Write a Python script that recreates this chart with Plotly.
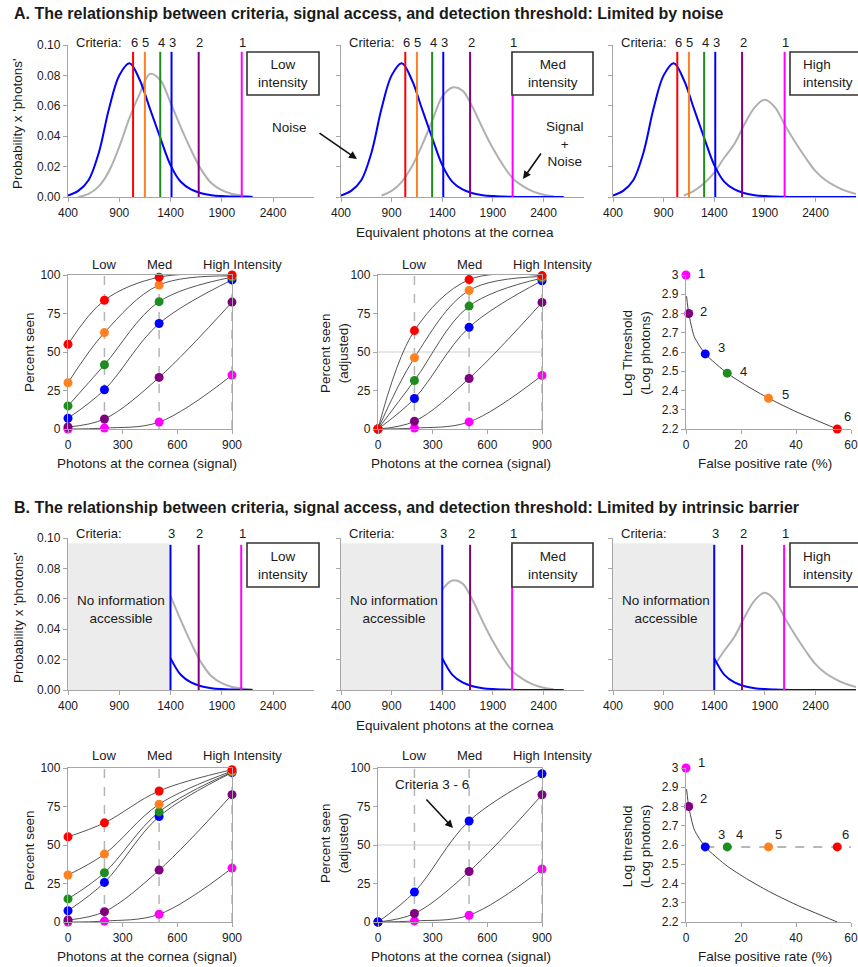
import plotly.graph_objects as go

W, H = 858, 967
FONT = "Liberation Sans, Arial, sans-serif"
TXT = "#1a1a1a"
AXC = "#a6a6a6"

# ------------------------- data -------------------------
dist_x = [400, 500, 600, 700, 800, 900, 1000, 1100, 1200, 1300, 1400, 1500, 1600,
          1700, 1800, 1900, 2000, 2100, 2200, 2300, 2400, 2500, 2600, 2700, 2800]
noise = [0.001, 0.004, 0.011, 0.029, 0.058, 0.080, 0.088, 0.077, 0.058, 0.039,
         0.021, 0.010, 0.005, 0.0025, 0.0012, 0.0006, 0.0003, 0.0001, 0.0, 0.0,
         0.0, 0.0, 0.0, 0.0, 0.0]
sig_low = [None, 0.0, 0.002, 0.007, 0.017, 0.033, 0.052, 0.068, 0.081, 0.077,
           0.062, 0.046, 0.031, 0.018, 0.009, 0.0045, 0.002, 0.001, 0.0003, None,
           None, None, None, None, None]
sig_med = [None, None, None, None, 0.001, 0.004, 0.010, 0.020, 0.034, 0.050,
           0.066, 0.072, 0.070, 0.059, 0.045, 0.032, 0.021, 0.012, 0.007, 0.0035,
           0.0015, 0.0005, None, None, None]
sig_high = [None, None, None, None, None, None, None, 0.001, 0.004, 0.009,
            0.016, 0.026, 0.035, 0.048, 0.059, 0.064, 0.059, 0.047, 0.036, 0.026,
            0.017, 0.011, 0.007, 0.004, 0.002]
intensity_names = ["Low<br>intensity", "Med<br>intensity", "High<br>intensity"]

criteria_labels = ["1", "2", "3", "4", "5", "6"]
criteria_A = [2095, 1675, 1410, 1300, 1150, 1035]
criteria_B = [2090, 1675, 1400]
barrier = 1400
crit_colors = ["#ff00ff", "#800080", "#0000ff", "#1f8c1f", "#ff8020", "#ff0000"]

signal = [0, 200, 500, 900]
signal_labels = ["Low", "Med", "High Intensity"]
seen_A = [[0, 0.6, 4.5, 35], [1.3, 6.5, 33.5, 82.4], [7, 25.5, 68.5, 96.8],
          [15, 41.7, 82.7, 98.6], [30, 62.6, 93.5, 99.4], [55, 83.6, 98.6, 100]]
adj_A = [[0, 0.6, 4.6, 34.8], [0, 5, 32.8, 82.2], [0, 19.8, 66, 96.3],
         [0, 31.5, 79.8, 98], [0, 46.3, 90, 99], [0, 63.9, 97, 99.6]]
seen_B = [[0, 0.6, 5, 35], [1.3, 6.7, 33.7, 82.7], [7.3, 25.7, 68.5, 97],
          [15, 32, 71.5, 97.4], [30.5, 44.1, 76.5, 98], [55.3, 64.4, 85.1, 98.9]]
adj_B = [[0, 0.7, 4.4, 34.4], [0, 5.5, 32.8, 82.6], [0, 19.5, 65.6, 96.3]]

fp_A = [0, 1, 7, 15, 30, 55]
thr_A = [3.0, 2.8, 2.59, 2.49, 2.36, 2.2]
fp_B = [0, 1, 7, 15, 30, 55]
thr_B = [3.0, 2.8, 2.59, 2.59, 2.59, 2.59]
curve_fp = [0.2, 1, 3, 7, 15, 22, 30, 40, 55]
curve_thr = [2.89, 2.8, 2.68, 2.59, 2.49, 2.425, 2.36, 2.29, 2.2]

# ------------------------- layout helpers -------------------------
def fx(p):
    return p / W


def fy(p):
    return 1 - p / H


def xr(i):
    return "x" if i == 1 else f"x{i}"


def yr(i):
    return "y" if i == 1 else f"y{i}"


COLS_WIDE = [(68, 314), (341, 584), (613, 856)]
COLS_NARROW = [(68, 232), (378, 542), (686, 851)]
ROWS = [(45, 197), (275, 429), (538, 690), (768, 922)]
noise_end = [2200, 2600, 2800]

fig = go.Figure()
layout = dict(
    width=W, height=H, margin=dict(l=0, r=0, t=0, b=0, pad=0, autoexpand=False),
    paper_bgcolor="white", plot_bgcolor="white", showlegend=False,
    font=dict(family=FONT, size=12, color=TXT),
)


def base_axis():
    return dict(showline=True, linecolor=AXC, linewidth=1.3, ticks="outside",
                ticklen=4, tickcolor=AXC, tickwidth=1, showgrid=False,
                zeroline=False, fixedrange=True,
                tickfont=dict(family=FONT, size=12, color=TXT))


for r in range(4):
    for c in range(3):
        i = r * 3 + c + 1
        cols = COLS_WIDE if r in (0, 2) else COLS_NARROW
        xa = base_axis()
        ya = base_axis()
        xa.update(domain=[fx(cols[c][0]), fx(cols[c][1])], anchor=yr(i))
        ya.update(domain=[fy(ROWS[r][1]), fy(ROWS[r][0])], anchor=xr(i))
        if r in (0, 2):
            xa.update(range=[400, 2800], tickvals=[400, 900, 1400, 1900, 2400])
            ya.update(range=[0, 0.1], tickvals=[0, 0.02, 0.04, 0.06, 0.08, 0.1],
                      tickformat=".2f", showticklabels=(c == 0))
        elif c < 2:
            xa.update(range=[0, 900], tickvals=[0, 300, 600, 900], mirror=True)
            ya.update(range=[0, 100], tickvals=[0, 25, 50, 75, 100], mirror=True)
        else:
            xa.update(range=[0, 60], tickvals=[0, 20, 40, 60])
            ya.update(range=[2.2, 3.0], tickvals=[2.2, 2.3, 2.4, 2.5, 2.6, 2.7, 2.8, 2.9, 3.0],
                      ticktext=["2.2", "2.3", "2.4", "2.5", "2.6", "2.7", "2.8", "2.9", "3"])
        layout["xaxis" if i == 1 else f"xaxis{i}"] = xa
        layout["yaxis" if i == 1 else f"yaxis{i}"] = ya

shapes = []
annotations = []


def ann(text, x, y, size=13.5, xref="paper", yref="paper", **kw):
    d = dict(text=text, x=x, y=y, xref=xref, yref=yref, showarrow=False,
             xanchor="center", yanchor="middle",
             font=dict(family=FONT, size=size, color=TXT))
    d.update(kw)
    annotations.append(d)


# ------------------------- distributions (rows 1 & 3) -------------------------
for k, sig in enumerate([sig_low, sig_med, sig_high]):
    for row in (0, 2):
        i = row * 3 + k + 1
        if row == 0:
            gx = [x for x, v in zip(dist_x, sig) if v is not None]
            gy = [v for v in sig if v is not None]
            bx = [x for x in dist_x if x <= noise_end[k]]
            by = [v for x, v in zip(dist_x, noise) if x <= noise_end[k]]
        else:
            gx = [x for x, v in zip(dist_x, sig) if v is not None and x >= barrier]
            gy = [v for x, v in zip(dist_x, sig) if v is not None and x >= barrier]
            bx = [x for x in dist_x if barrier <= x <= noise_end[k]]
            by = [v for x, v in zip(dist_x, noise) if barrier <= x <= noise_end[k]]
        fig.add_trace(go.Scatter(x=gx, y=gy, mode="lines", xaxis=xr(i), yaxis=yr(i),
                                 line=dict(color="#b0b0b0", width=2, shape="spline", smoothing=1),
                                 cliponaxis=False, hoverinfo="skip"))
        fig.add_trace(go.Scatter(x=bx, y=by, mode="lines", xaxis=xr(i), yaxis=yr(i),
                                 line=dict(color="#0000ff", width=2, shape="spline", smoothing=1),
                                 cliponaxis=False, hoverinfo="skip"))
        crits = criteria_A if row == 0 else criteria_B
        label_y = 42 if row == 0 else 533
        if row == 2:
            shapes.append(dict(type="rect", xref=xr(i), yref=yr(i), x0=400, x1=barrier,
                               y0=0, y1=0.0965, fillcolor="#ececec", line=dict(width=0),
                               layer="below"))
            ann("No information<br>accessible", 920, 0.053, xref=xr(i), yref=yr(i))
        for j, cval in enumerate(crits):
            shapes.append(dict(type="line", xref=xr(i), yref=yr(i), x0=cval, x1=cval,
                               y0=0, y1=0.0955, line=dict(color=crit_colors[j], width=2)))
            ann(criteria_labels[j], cval, fy(label_y), size=13, xref=xr(i), xshift=1)
        ann("Criteria:", 705, fy(label_y), size=13, xref=xr(i))

# intensity boxes
box_x = [(247, 319), (512, 593), (790, 880)]
for row, (top, bot) in zip((0, 2), ((52, 95), (543, 587))):
    for k in range(3):
        x0, x1 = box_x[k]
        shapes.append(dict(type="rect", xref="paper", yref="paper", x0=fx(x0), x1=fx(x1),
                           y0=fy(bot), y1=fy(top), line=dict(color="#333333", width=1.6),
                           fillcolor="white"))
        if k < 2:
            ann(intensity_names[k], fx((x0 + x1) / 2), fy((top + bot) / 2))
        else:
            ann(intensity_names[k], fx(801), fy((top + bot) / 2), xanchor="left", align="left")

# ------------------------- percent seen (rows 2 & 4) -------------------------
for i, data in ((4, seen_A), (5, adj_A), (10, seen_B), (11, adj_B)):
    for sv in signal[1:]:
        shapes.append(dict(type="line", xref=xr(i), yref=yr(i), x0=sv, x1=sv, y0=0, y1=100,
                           line=dict(color="#b5b5b5", width=1.5, dash="dash"), layer="below"))
    if i in (5, 11):
        shapes.append(dict(type="line", xref=xr(i), yref=yr(i), x0=0, x1=900, y0=50, y1=50,
                           line=dict(color="#d0d0d0", width=1.2), layer="below"))
    for series in data:
        fig.add_trace(go.Scatter(x=signal, y=series, mode="lines", xaxis=xr(i), yaxis=yr(i),
                                 line=dict(color="#555555", width=1, shape="spline", smoothing=1),
                                 hoverinfo="skip"))
    for j, series in enumerate(data):
        fig.add_trace(go.Scatter(x=signal, y=series, mode="markers", xaxis=xr(i), yaxis=yr(i),
                                 marker=dict(color=crit_colors[j], size=9), cliponaxis=False,
                                 hoverinfo="skip"))
    row_top = ROWS[1][0] if i < 7 else ROWS[3][0]
    lab_y = row_top - 10 if i < 7 else row_top - 13
    ann(signal_labels[0], signal[1], fy(lab_y), size=13, xref=xr(i))
    ann(signal_labels[1], signal[2], fy(lab_y), size=13, xref=xr(i))
    ann(signal_labels[2], signal[3], fy(lab_y), size=13, xref=xr(i), xshift=10)

# ------------------------- thresholds (rows 2 & 4, col 3) -------------------------
label_shift_A = [(15, 1), (15, 2), (16, 6), (16, 2), (17, 4), (10, 12)]
label_shift_B = [(15, 6), (15, 8), (16, 12), (12, 12), (10, 12), (8, 12)]
for i, fps, thrs, shifts in ((6, fp_A, thr_A, label_shift_A), (12, fp_B, thr_B, label_shift_B)):
    fig.add_trace(go.Scatter(x=curve_fp, y=curve_thr, mode="lines", xaxis=xr(i), yaxis=yr(i),
                             line=dict(color="#444444", width=1, shape="spline", smoothing=0.6),
                             hoverinfo="skip"))
    if i == 12:
        fig.add_trace(go.Scatter(x=[fps[2], 60], y=[thrs[2], thrs[2]], mode="lines",
                                 xaxis=xr(i), yaxis=yr(i),
                                 line=dict(color="#a0a0a0", width=1.5, dash="dash"),
                                 cliponaxis=False, hoverinfo="skip"))
    fig.add_trace(go.Scatter(x=fps, y=thrs, mode="markers", xaxis=xr(i), yaxis=yr(i),
                             marker=dict(color=crit_colors, size=9), cliponaxis=False,
                             hoverinfo="skip"))
    for j in range(6):
        ann(criteria_labels[j], fps[j], thrs[j], size=13, xref=xr(i), yref=yr(i),
            xshift=shifts[j][0], yshift=shifts[j][1])

# ------------------------- titles & axis titles -------------------------
ann("<b>A. The relationship between criteria, signal access, and detection threshold: Limited by noise</b>",
    fx(12), fy(13), size=16, xanchor="left")
ann("<b>B. The relationship between criteria, signal access, and detection threshold: Limited by intrinsic barrier</b>",
    fx(12), fy(507), size=16, xanchor="left")

for yc in (124, 618):
    ann("Probability x 'photons'", fx(18), fy(yc), textangle=-90)
for yc in (232, 725):
    ann("Equivalent photons at the cornea", fx(455), fy(yc))

for yt, yx, yc2, ylog, logtxt in ((352, 463, 353, 353, "Log Threshold<br>(Log photons)"),
                                  (850, 956, 843, 847, "Log threshold<br>(Log photons)")):
    ann("Percent seen", fx(29), fy(yt), textangle=-90)
    ann("Photons at the cornea (signal)", fx(147), fy(yx))
    ann("Photons at the cornea (signal)", fx(461), fy(yx))
    ann("Percent seen<br>(adjusted)", fx(334), fy(yc2), textangle=-90)
    ann(logtxt, fx(636), fy(ylog), textangle=-90)
    ann("False positive rate (%)", fx(765), fy(yx))

# arrows and callouts
ann("Noise", fx(289), fy(128))
ann("", fx(357), fy(159), showarrow=True, ax=-39, ay=-27, arrowhead=2, arrowsize=1,
    arrowwidth=1.6, arrowcolor="#111111")
ann("Signal<br>+<br>Noise", fx(565), fy(144))
ann("", fx(523), fy(179), showarrow=True, ax=19, ay=-27, arrowhead=2, arrowsize=1,
    arrowwidth=1.6, arrowcolor="#111111")
ann("Criteria 3 - 6", fx(432), fy(784))
ann("", fx(453), fy(828), showarrow=True, ax=-28, ay=-30, arrowhead=2, arrowsize=1,
    arrowwidth=1.6, arrowcolor="#111111")

layout["shapes"] = shapes
layout["annotations"] = annotations
fig.update_layout(**layout)
fig.write_html("out.html", config={"displayModeBar": False},
               post_script="document.body.style.margin='0';document.body.style.overflow='hidden';")
